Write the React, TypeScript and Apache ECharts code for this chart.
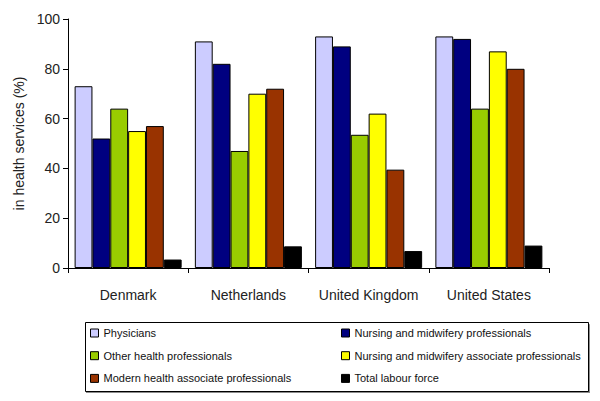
import React, { useEffect, useRef } from "react";
import * as echarts from "echarts";

const categories = ["Denmark", "Netherlands", "United Kingdom", "United States"];
const seriesNames = [
  "Physicians",
  "Nursing and midwifery professionals",
  "Other health professionals",
  "Nursing and midwifery associate professionals",
  "Modern health associate professionals",
  "Total labour force",
];
const physicians = [73, 91, 93, 93];
const nursingProf = [52, 82, 89, 92];
const otherHealth = [64, 47, 53.5, 64];
const nursingAssoc = [55, 70, 62, 87];
const modernHealth = [57, 72, 39.5, 80];
const totalLabour = [3.4, 8.7, 6.8, 9];
const colors = ["#CCCCFF", "#000080", "#99CC00", "#FFFF00", "#993300", "#000000"];
const yTicks = [0, 20, 40, 60, 80, 100];

const FONT = "'Liberation Sans', Arial, sans-serif";

export default function App() {
  const ref = useRef<HTMLDivElement>(null);
  useEffect(() => {
    if (!ref.current) return;
    const chart = echarts.init(ref.current, null, { renderer: "svg" });
    const values = [physicians, nursingProf, otherHealth, nursingAssoc, modernHealth, totalLabour];
    const series = seriesNames.map((name, i) => ({
      name,
      type: "bar" as const,
      data: values[i],
      barGap: "0%",
      barCategoryGap: "11%",
      itemStyle: { color: colors[i], borderColor: "#000", borderWidth: 1 },
    }));
    const legendItem = { icon: "rect", itemWidth: 8, itemHeight: 8 };
    chart.setOption({
      animation: false,
      backgroundColor: "#fff",
      textStyle: { fontFamily: FONT },
      grid: { left: 68, top: 19, right: 51, bottom: 133, containLabel: false },
      xAxis: {
        type: "category",
        data: categories,
        axisLine: { lineStyle: { color: "#000", width: 1 } },
        axisTick: { show: true, length: 5, lineStyle: { color: "#000" } },
        axisLabel: { color: "#222", fontSize: 14, fontFamily: FONT, margin: 20, interval: 0 },
      },
      yAxis: {
        type: "value",
        min: yTicks[0],
        max: yTicks[yTicks.length - 1],
        interval: 20,
        name: "in health services (%)",
        nameLocation: "middle",
        nameGap: 37,
        nameTextStyle: { color: "#222", fontSize: 14, fontFamily: FONT },
        axisLine: { show: true, lineStyle: { color: "#000", width: 1 } },
        axisTick: { show: true, length: 5, lineStyle: { color: "#000" } },
        axisLabel: { color: "#222", fontSize: 14, fontFamily: FONT, margin: 8 },
        splitLine: { show: false },
      },
      legend: [
        {
          ...legendItem,
          orient: "vertical",
          left: 85,
          top: 321,
          itemGap: 8.7,
          selectedMode: false,
          data: [seriesNames[0], seriesNames[2], seriesNames[4]],
          itemStyle: { borderColor: "#000", borderWidth: 1 },
          textStyle: { fontSize: 11, color: "#111", fontFamily: FONT, lineHeight: 14 },
        },
        {
          ...legendItem,
          orient: "vertical",
          left: 336,
          top: 321,
          itemGap: 8.7,
          selectedMode: false,
          data: [seriesNames[1], seriesNames[3], seriesNames[5]],
          itemStyle: { borderColor: "#000", borderWidth: 1 },
          textStyle: { fontSize: 11, color: "#111", fontFamily: FONT, lineHeight: 14 },
        },
      ],
      graphic: [
        {
          type: "rect",
          left: 85,
          top: 322,
          shape: { width: 503, height: 69 },
          style: {
            fill: "#fff",
            stroke: "#000",
            lineWidth: 1,
            shadowColor: "rgba(0,0,0,0.45)",
            shadowOffsetX: 1,
            shadowOffsetY: 2,
            shadowBlur: 1,
          },
          z: -1,
        },
      ],
      series,
    });
    return () => chart.dispose();
  }, []);
  return <div ref={ref} style={{ width: 600, height: 401, margin: -8 }} />;
}
